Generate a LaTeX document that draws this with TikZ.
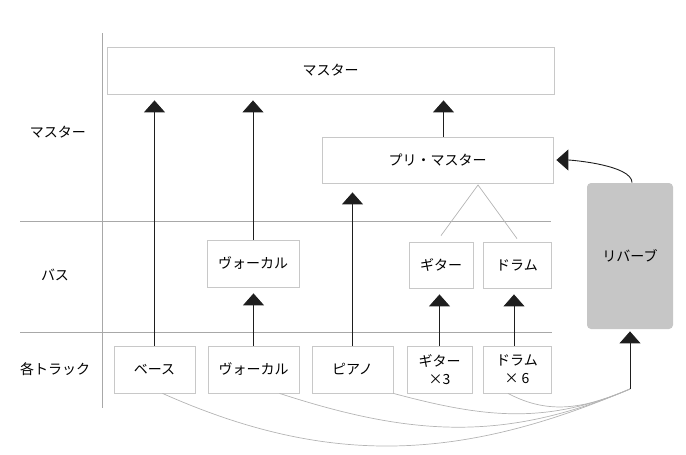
\documentclass[tikz,border=0pt]{standalone}
\usepackage{fontspec}
\usepackage{tikz}
\usetikzlibrary{arrows.meta}
\newfontfamily\jpfont{Noto Sans CJK JP}
\definecolor{boxline}{HTML}{C8C8C8}
\definecolor{gridline}{HTML}{A8A8A8}
\definecolor{sendline}{HTML}{B4B4B4}
\definecolor{revfill}{HTML}{C6C6C6}
\definecolor{arrline}{HTML}{1E1E1E}
\tikzset{
  box/.style={draw=boxline, line width=0.8pt, fill=white, inner sep=0pt,
    align=center, font=\jpfont\fontsize{14}{18}\selectfont},
  rowlabel/.style={inner sep=0pt, font=\jpfont\fontsize{14}{18}\selectfont},
  arr/.style={draw=arrline, line width=0.9pt,
    -{Triangle[width=21pt,length=12pt]}, shorten >=6pt},
  send/.style={draw=sendline, line width=0.7pt},
}

\begin{document}
\begin{tikzpicture}[x=1pt,y=1pt]
\useasboundingbox (0,0) rectangle (686,-455);

\begin{scope}[color=gridline, line width=0.7pt]
\draw (102,-33) -- (102,-408);
\draw (20,-221) -- (551,-221);
\draw (20,-332) -- (552,-332);
\end{scope}

\node[rowlabel] (lmaster) at (58,-132) {マスター};
\node[rowlabel] (lbus)    at (55,-275) {バス};
\node[rowlabel] (ltrack)  at (55,-369) {各トラック};

\node[box, minimum width=447pt, minimum height=47pt] (master) at (330.5,-70.5) {マスター};
\node[box, minimum width=231pt, minimum height=46pt] (pre) at (437.5,-160) {プリ・マスター};

\node[box, minimum width=92pt, minimum height=47pt] (vbus) at (253,-263.5) {ヴォーカル};
\node[box, minimum width=64pt, minimum height=46pt] (gbus) at (441,-265) {ギター};
\node[box, minimum width=68pt, minimum height=46pt] (dbus) at (517,-265) {ドラム};

\node[box, draw=none, fill=revfill, rounded corners=4pt,
  minimum width=86pt, minimum height=146pt] (rev) at (630,-256) {リバーブ};

\node[box, minimum width=81pt, minimum height=47pt] (bass)  at (154.5,-369.5) {ベース};
\node[box, minimum width=91pt, minimum height=47pt] (vtrk)  at (253.5,-369.5) {ヴォーカル};
\node[box, minimum width=81pt, minimum height=47pt] (piano) at (352.5,-369.5) {ピアノ};
\node[box, minimum width=65pt, minimum height=47pt] (gtrk)  at (439.5,-369.5) {ギター\\×3};
\node[box, minimum width=68pt, minimum height=47pt] (dtrk)  at (517,-369.5) {ドラム\\× 6};

\coordinate (split) at (478,-185);
\coordinate (mix) at (630,-389);

\draw[send] ([yshift=6pt]gbus.north) -- (split) -- ([yshift=3pt]dbus.north);

\draw[send] ([xshift=8pt]bass.south) to[out=-24,in=203] (mix);
\draw[send] ([xshift=26pt]vtrk.south) to[out=-18,in=203] (mix);
\draw[send] (piano.south east) to[out=-15,in=203] (mix);
\draw[send] ([xshift=-9pt]dtrk.south) to[out=-28,in=203] (mix);

\draw[arr] (bass.north) -- (bass.north |- master.south);
\draw[arr] (vbus.north) -- (vbus.north |- master.south);
\draw[arr] ([xshift=6pt]pre.north) -- ([xshift=6pt]pre.north |- master.south);
\draw[arr, shorten >=9pt] (piano.north) -- (piano.north |- pre.south);
\draw[arr] (vtrk.north) -- (vtrk.north |- vbus.south);
\draw[arr] (gtrk.north) -- (gtrk.north |- gbus.south);
\draw[arr] ([xshift=-3pt]dtrk.north) -- ([xshift=-3pt]dtrk.north |- dbus.south);

\draw[arr, shorten >=2pt] (mix) -- (rev.south);
\draw[arr, shorten >=3pt] ([xshift=2pt]rev.north) to[out=90,in=0,looseness=0.55] (pre.east);
\end{tikzpicture}
\end{document}
